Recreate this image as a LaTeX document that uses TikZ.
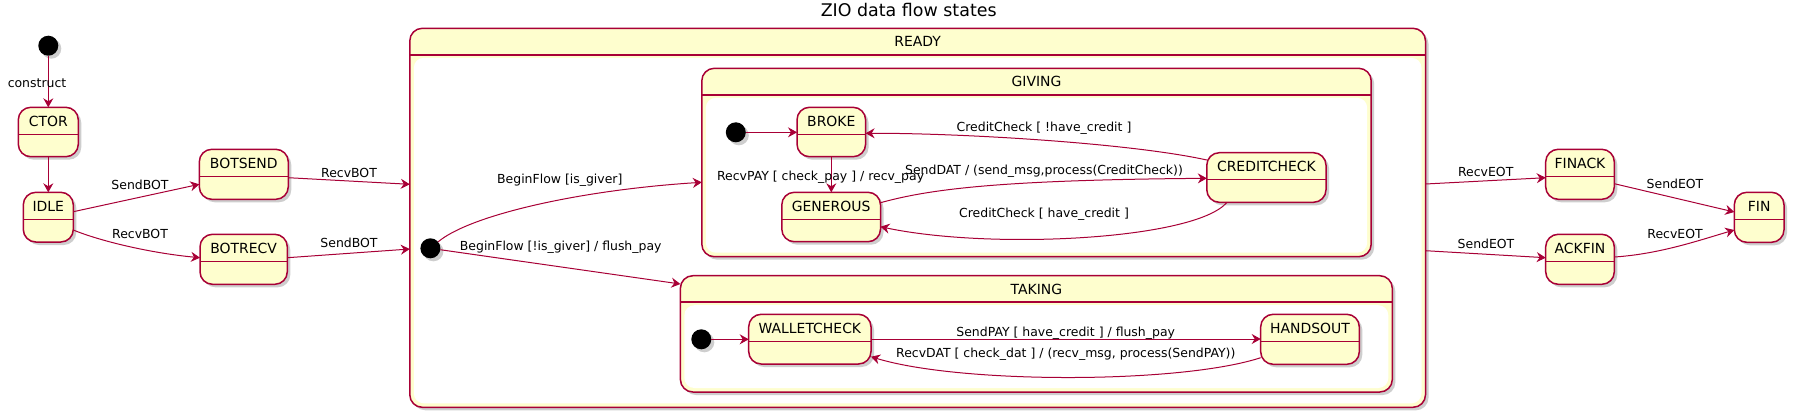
\documentclass[tikz,border=0pt]{standalone}
\usepackage{fontspec}
\setmainfont{DejaVu Sans}
\usetikzlibrary{arrows.meta,shadows,fit,calc}
\definecolor{pbord}{HTML}{A80036}
\definecolor{pfill}{HTML}{FEFECE}
\tikzset{
  shad/.style={drop shadow={shadow xshift=3bp, shadow yshift=-3bp, opacity=0.35, fill=black!55}},
  stbox/.style={draw=pbord, line width=1.5bp, fill=pfill, rounded corners=12.5bp, inner sep=0pt, outer sep=0pt, shad},
  stname/.style={font=\fontsize{14}{16}\selectfont, inner sep=0pt, anchor=base},
  lbl/.style={font=\fontsize{12.5}{14}\selectfont, inner sep=0pt, anchor=base},
  ttl/.style={font=\fontsize{17.5}{20}\selectfont, inner sep=0pt, anchor=base},
  divline/.style={draw=pbord, line width=1.5bp},
  conn/.style={draw=pbord, line width=1bp, -{Stealth[length=9bp,width=10bp,inset=3bp]}},
  initst/.style={circle, fill=black, minimum size=20bp, inner sep=0pt, outer sep=0pt, shad},
}
\newcommand\stbx[6]{%
  \node[stbox, fit={(#2,#3) (#4,#5)}] (#1) {};
  \node[stname] (#1-name) at ($(#1.north)+(0,19)$) {#6};
  \draw[divline] ($(#1.north west)+(0,27)$) -- ($(#1.north east)+(0,27)$);
}
\newcommand\cmpbx[6]{%
  \node[stbox, fit={(#2,#3) (#4,#5)}] (#1) {};
  \fill[white, rounded corners=10bp] ($(#1.north west)+(4,29.5)$) rectangle ($(#1.south east)+(-4,-4)$);
  \draw[divline] ($(#1.north west)+(0,26.5)$) -- ($(#1.north east)+(0,26.5)$);
  \node[stname] (#1-name) at ($(#1.north)+(0,18.5)$) {#6};
}
\begin{document}
\begin{tikzpicture}[x=1bp,y=-1bp]
\useasboundingbox (0,0) rectangle (1795,417);
\node[ttl] (title) at (908.7,16.7) {ZIO data flow states};

% composites
\cmpbx{ready}{409.8}{28.3}{1425.5}{407.3}{READY}
\cmpbx{giving}{701.8}{68.3}{1371.2}{256.7}{GIVING}
\cmpbx{taking}{680.4}{275.7}{1392.3}{392}{TAKING}

% simple states
\stbx{ctor}{18.3}{107.3}{78.3}{156.7}{CTOR}
\stbx{idle}{23.3}{192.3}{73.3}{242}{IDLE}
\stbx{botsend}{199.3}{149.3}{288.3}{199.3}{BOTSEND}
\stbx{botrecv}{200}{234.3}{287.3}{284.3}{BOTRECV}
\stbx{broke}{797}{107.3}{865.6}{156.7}{BROKE}
\stbx{generous}{781.8}{192.3}{880.5}{241.7}{GENEROUS}
\stbx{creditcheck}{1206.8}{152.7}{1326}{202.3}{CREDITCHECK}
\stbx{walletcheck}{748.7}{314.3}{871}{364}{WALLETCHECK}
\stbx{handsout}{1260.7}{314.3}{1359.3}{364.3}{HANDSOUT}
\stbx{finack}{1545.7}{149.3}{1614.3}{199.3}{FINACK}
\stbx{ackfin}{1545.7}{234.3}{1614.3}{284.3}{ACKFIN}
\stbx{fin}{1734.3}{192.3}{1784}{242.3}{FIN}

% initial states
\node[initst] (s0) at (48.3,45.7) {};
\node[initst] (r0) at (430.4,248.3) {};
\node[initst] (g0) at (735.8,132.3) {};
\node[initst] (t0) at (701.3,339.3) {};

% connectors
\draw[conn] (s0) -- (ctor);
\node[lbl] (l-construct) at (37,87) {construct};
\draw[conn] (ctor) -- (idle);
\draw[conn] (idle.east |- 0,211.7) -- (botsend.west |- 0,184.3);
\node[lbl] (l1) at (140,189) {SendBOT};
\draw[conn] (idle.east |- 0,230) .. controls (100,241) and (150,253) .. (botrecv.west |- 0,257.7);
\node[lbl] (l2) at (140,238.3) {RecvBOT};
\draw[conn] (botsend.east |- 0,177.7) -- (ready.west |- 0,184.3);
\node[lbl] (l3) at (349,177.3) {RecvBOT};
\draw[conn] (botrecv.east |- 0,257.7) -- (ready.west |- 0,249);
\node[lbl] (l4) at (349,247) {SendBOT};
\draw[conn] (ready.east |- 0,184) -- (finack.west |- 0,177.7);
\node[lbl] (l5) at (1485.7,176.7) {RecvEOT};
\draw[conn] (ready.east |- 0,250.7) -- (ackfin.west |- 0,257.7);
\node[lbl] (l6) at (1486,248.3) {SendEOT};
\draw[conn] (finack.east |- 0,183.7) -- (fin.west |- 0,212);
\node[lbl] (l7) at (1675,188.3) {SendEOT};
\draw[conn] (ackfin.east |- 0,257) .. controls (1660,254) and (1700,240) .. (fin.west |- 0,230);
\node[lbl] (l8) at (1675,238.3) {RecvEOT};

\draw[conn] (r0) .. controls (470,215) and (580,190) .. (giving.west |- 0,182.3);
\node[lbl] (l9) at (559.8,183.6) {BeginFlow [is\_giver]};
\draw[conn] (r0) -- (taking.west |- 0,284);
\node[lbl] (l10) at (560.7,250.3) {BeginFlow [!is\_giver] / flush\_pay};

\draw[conn] (g0) -- (broke.west |- g0);
\draw[conn] (broke.south) -- (broke.south |- generous.north);
\node[lbl] (l11) at (820.6,180.3) {RecvPAY [ check\_pay ] / recv\_pay};
\draw[conn] (generous.east |- 0,202.7) .. controls (930,189) and (1000,180) .. (creditcheck.west |- 0,178.3);
\node[lbl] (l12) at (1044,174.6) {SendDAT / (send\_msg,process(CreditCheck))};
\draw[conn] (creditcheck.west |- 0,160) .. controls (1130,143) and (960,133) .. (broke.east |- 0,133.3);
\node[lbl] (l13) at (1044,131.3) {CreditCheck [ !have\_credit ]};
\draw[conn] (1227,0 |- creditcheck.south) .. controls (1195,240) and (990,250) .. (generous.east |- 0,226.7);
\node[lbl] (l14) at (1044,217.3) {CreditCheck [ have\_credit ]};

\draw[conn] (t0) -- (walletcheck.west |- t0);
\draw[conn] (walletcheck.east |- 0,339) -- (handsout.west |- 0,339);
\node[lbl] (l15) at (1065.7,336.3) {SendPAY [ have\_credit ] / flush\_pay};
\draw[conn] (handsout.west |- 0,357.7) .. controls (1180,384) and (960,384) .. (walletcheck.east |- 0,356.7);
\node[lbl] (l16) at (1065.8,357.1) {RecvDAT [ check\_dat ] / (recv\_msg, process(SendPAY))};
\end{tikzpicture}
\end{document}
